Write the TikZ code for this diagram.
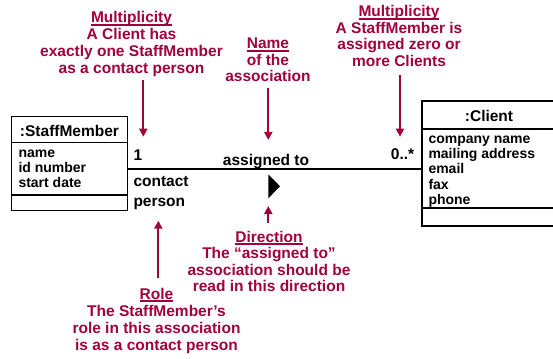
\documentclass[tikz,border=0pt]{standalone}
\usepackage{fontspec}
\setmainfont{Liberation Sans}
\usetikzlibrary{arrows.meta}
\definecolor{anncol}{RGB}{160,0,60}
\newcommand\bigf{\fontsize{15.5}{17}\selectfont\bfseries}
\newcommand\smallf{\fontsize{14}{15}\selectfont\bfseries}
\newcommand\myul[1]{\setbox0=\hbox{#1}\rlap{\rule[-2.6pt]{\wd0}{1.6pt}}\box0}
\begin{document}
\begin{tikzpicture}[x=1pt,y=-1pt,
  ann/.style={text=anncol, font=\bigf, anchor=base, inner sep=0},
  lbl/.style={font=\bigf, anchor=base, inner sep=0},
  lblw/.style={font=\bigf, anchor=base west, inner sep=0},
  attr/.style={font=\smallf, anchor=base west, inner sep=0},
  box/.style={draw, line width=1.8pt, inner sep=0, outer sep=0, anchor=north west},
  annarrow/.style={draw=anncol, line width=2.2pt, -{Triangle[length=8pt,width=8pt]}},
  assoc/.style={line width=1.8pt}]
\clip (0,0) rectangle (553,358);
\fill[white] (0,0) rectangle (553,358);

% StaffMember class
\node[box, minimum width=116pt, minimum height=26pt] (smhead) at (11.5,116.5) {};
\node[box, minimum width=116pt, minimum height=52.5pt] (smattr) at (smhead.south west) {};
\node[box, minimum width=116pt, minimum height=15.5pt] (smops) at (smattr.south west) {};
\node[lbl] (smtitle) at (69.5,136) {:StaffMember};
\node[attr] (sma1) at (18.3,157.5) {name};
\node[attr] (sma2) at (18.3,172.5) {id number};
\node[attr] (sma3) at (18.3,187.5) {start date};

% Client class
\node[box, minimum width=170pt, minimum height=28.3pt] (clhead) at (421.7,100.7) {};
\node[box, minimum width=170pt, minimum height=79.3pt] (clattr) at (clhead.south west) {};
\node[box, minimum width=170pt, minimum height=17.7pt] (clops) at (clattr.south west) {};
\node[lbl] (cltitle) at (489,121.7) {:Client};
\node[attr] (cla1) at (428.3,143.5) {company name};
\node[attr] (cla2) at (428.3,158.5) {mailing address};
\node[attr] (cla3) at (428.3,173.6) {email};
\node[attr] (cla4) at (428.3,189) {fax};
\node[attr] (cla5) at (428.3,204.2) {phone};

% association
\coordinate (lineY) at (0,168.7);
\draw[assoc] (smattr.east |- lineY) -- (clattr.west |- lineY);
\node[lblw] (m1) at (133.5,160.5) {1};
\node[lbl] (aname) at (266,165) {assigned to};
\node[lblw] (m2) at (390.7,160) {0..*};
\node[lblw] (role1) at (133.3,186.7) {contact};
\node[lblw] (role2) at (133.3,206) {person};
\coordinate (dir) at (268.3,186.3);
\fill (dir) ++(0,-12) -- ++(11.7,12) -- ++(-11.7,12) -- cycle;

% annotations
\node[ann] (lm1) at (131.5,23) {\myul{Multiplicity}};
\node[ann] (lm2) at (131.5,40) {A Client has};
\node[ann] (lm3) at (131.5,57) {exactly one StaffMember};
\node[ann] (lm4) at (131.5,74) {as a contact person};

\node[ann] (nm1) at (268,49) {\myul{Name}};
\node[ann] (nm2) at (268,65.5) {of the};
\node[ann] (nm3) at (268,82) {association};

\node[ann] (rm1) at (399,17) {\myul{Multiplicity}};
\node[ann] (rm2) at (399,33.5) {A StaffMember is};
\node[ann] (rm3) at (399,50) {assigned zero or};
\node[ann] (rm4) at (399,66.5) {more Clients};

\node[ann] (dr1) at (269,242) {\myul{Direction}};
\node[ann] (dr2) at (269,258.5) {The “assigned to”};
\node[ann] (dr3) at (269,275) {association should be};
\node[ann] (dr4) at (269,291.5) {read in this direction};

\node[ann] (ro1) at (156.5,299) {\myul{Role}};
\node[ann] (ro2) at (156.5,316) {The StaffMember’s};
\node[ann] (ro3) at (156.5,333) {role in this association};
\node[ann] (ro4) at (156.5,350) {is as a contact person};

\coordinate (lmtail) at (143.3,80);
\coordinate (lmtip) at (143.3,136.7);
\coordinate (nmtail) at (268.3,88.3);
\coordinate (nmtip) at (268.3,140);
\coordinate (rmtail) at (400,75);
\coordinate (rmtip) at (400,136.7);
\coordinate (drtail) at (268.3,223.3);
\coordinate (drtip) at (268.3,206);
\coordinate (rotail) at (158.3,278.3);
\coordinate (rotip) at (158.3,220.7);
\draw[annarrow] (lmtail) -- (lmtip);
\draw[annarrow] (nmtail) -- (nmtip);
\draw[annarrow] (rmtail) -- (rmtip);
\draw[annarrow] (drtail) -- (drtip);
\draw[annarrow] (rotail) -- (rotip);
\end{tikzpicture}
\end{document}
